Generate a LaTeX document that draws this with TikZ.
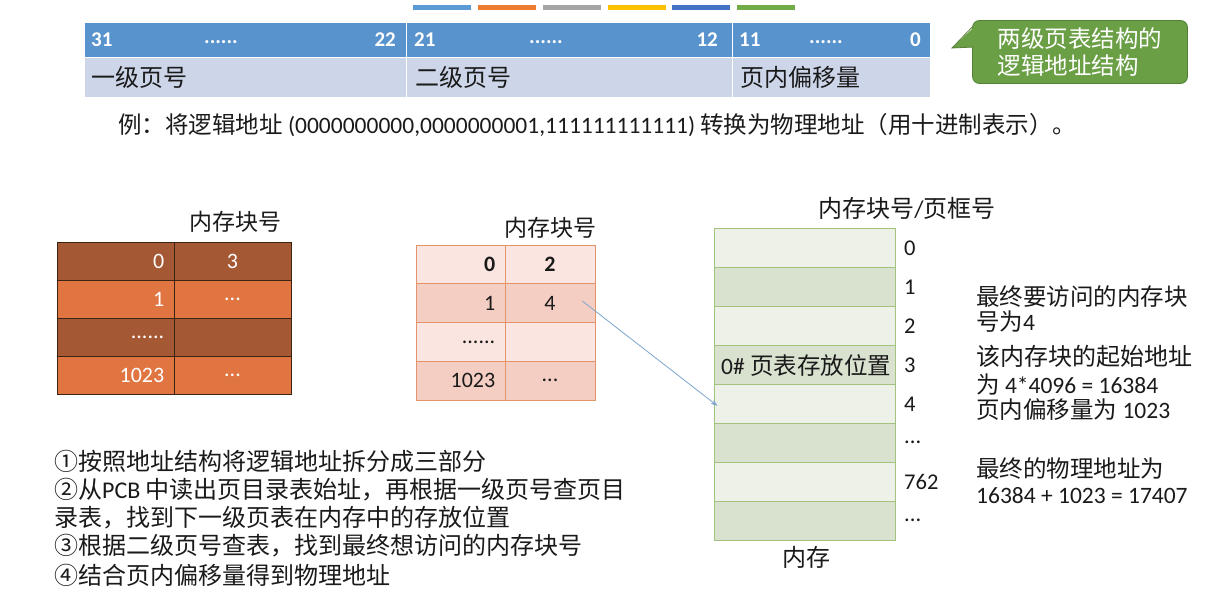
\documentclass[tikz,border=0pt]{standalone}
\usepackage{fontspec}
\setmainfont{Carlito}
\newfontfamily\cjk{Noto Sans CJK SC}
\usetikzlibrary{arrows.meta}
\definecolor{barblue}{HTML}{5B9BD5}
\definecolor{barorange}{HTML}{ED7D31}
\definecolor{bargray}{HTML}{A5A5A5}
\definecolor{baryellow}{HTML}{FFC000}
\definecolor{bardblue}{HTML}{4472C4}
\definecolor{bargreen}{HTML}{70AD47}
\definecolor{hdrblue}{HTML}{5893CD}
\definecolor{rowlight}{HTML}{CDD6E9}
\definecolor{cbfill}{HTML}{6A9F45}
\definecolor{cbdraw}{HTML}{557F37}
\definecolor{tdark}{HTML}{A45834}
\definecolor{torange}{HTML}{E07541}
\definecolor{tborder}{HTML}{3A2414}
\definecolor{pinkA}{HTML}{FBE5E0}
\definecolor{pinkB}{HTML}{F4CEC3}
\definecolor{pinkline}{HTML}{E4946A}
\definecolor{memA}{HTML}{EDF1E8}
\definecolor{memB}{HTML}{D8E2CF}
\definecolor{memline}{HTML}{A3C27E}
\definecolor{arrowblue}{HTML}{7FA6CE}
\definecolor{txtc}{HTML}{1A1A1A}
\newcommand\zh[1]{{\cjk #1}}
\begin{document}
\begin{tikzpicture}[x=1pt,y=-1pt,
  every node/.style={inner sep=0pt, text=txtc},
  bar/.style={minimum width=58pt, minimum height=5pt},
  addrcell/.style={draw=white, line width=1pt},
  hdrtxt/.style={text=white, font=\fontsize{21}{24}\selectfont\bfseries},
  txt/.style={anchor=west, font=\fontsize{24}{28}\selectfont},
  headtxt/.style={font=\fontsize{23}{28}\selectfont},
  smalltxt/.style={anchor=west, font=\fontsize{23.5}{28}\selectfont},
  para/.style={anchor=north west, align=left, font=\fontsize{23.5}{25}\selectfont},
  cellA/.style={draw=tborder, line width=0.8pt, fill=tdark, minimum width=117pt, minimum height=38pt},
  cellB/.style={draw=tborder, line width=0.8pt, fill=torange, minimum width=117pt, minimum height=38pt},
  wtxt/.style={text=white, font=\fontsize{22}{26}\selectfont},
  pcellA/.style={draw=pinkline, line width=0.8pt, fill=pinkA, minimum height=38.75pt},
  pcellB/.style={draw=pinkline, line width=0.8pt, fill=pinkB, minimum height=38.75pt},
  ptxt/.style={font=\fontsize{22}{26}\selectfont},
  memcellA/.style={draw=memline, line width=1pt, fill=memA, minimum width=181pt, minimum height=38.875pt},
  memcellB/.style={draw=memline, line width=1pt, fill=memB, minimum width=181pt, minimum height=38.875pt},
  memlbl/.style={anchor=west, font=\fontsize{22.5}{26}\selectfont},
  conn/.style={draw=arrowblue, line width=0.8pt, -{Stealth[length=7pt,width=5pt]}}
]
\useasboundingbox[fill=white] (0,0) rectangle (1221,589);

% colour bars
\node[bar, fill=barblue]   (cb1) at (442,7.5) {};
\node[bar, fill=barorange] (cb2) at (507,7.5) {};
\node[bar, fill=bargray]   (cb3) at (572,7.5) {};
\node[bar, fill=baryellow] (cb4) at (637,7.5) {};
\node[bar, fill=bardblue]  (cb5) at (701,7.5) {};
\node[bar, fill=bargreen]  (cb6) at (765.5,7.5) {};

% address structure
\node[addrcell, fill=hdrblue, minimum width=322pt, minimum height=35pt] (a1) at (245,39.5) {};
\node[addrcell, fill=hdrblue, minimum width=326pt, minimum height=35pt] (a2) at (569,39.5) {};
\node[addrcell, fill=hdrblue, minimum width=198pt, minimum height=35pt] (a3) at (831,39.5) {};
\node[addrcell, fill=rowlight, minimum width=322pt, minimum height=40pt] (b1) at (245,77) {};
\node[addrcell, fill=rowlight, minimum width=326pt, minimum height=40pt] (b2) at (569,77) {};
\node[addrcell, fill=rowlight, minimum width=198pt, minimum height=40pt] (b3) at (831,77) {};

\node[hdrtxt, anchor=west] (h31) at (91,40) {31};
\node[hdrtxt] (hd1) at (221,42) {......};
\node[hdrtxt, anchor=east] (h22) at (396,40) {22};
\node[hdrtxt, anchor=west] (h21) at (414,40) {21};
\node[hdrtxt] (hd2) at (546,42) {......};
\node[hdrtxt, anchor=east] (h12) at (718,40) {12};
\node[hdrtxt, anchor=west] (h11) at (739,40) {11};
\node[hdrtxt] (hd3) at (826,42) {......};
\node[hdrtxt, anchor=east] (h0) at (921,40) {0};

\node[txt] (l1) at (91,77) {\zh{一级页号}};
\node[txt] (l2) at (415,77) {\zh{二级页号}};
\node[txt] (l3) at (740,77) {\zh{页内偏移量}};

% callout
\node[fill=cbfill, draw=cbdraw, line width=0.8pt, rounded corners=7pt, minimum width=215pt, minimum height=63pt, align=left,
      text=white, font=\fontsize{23.5}{27}\selectfont] (cbox) at (1080,52)
      {\zh{两级页表结构的}\\\zh{逻辑地址结构}};
\coordinate (tip) at (952,48);
\fill[cbfill] ([xshift=2pt,yshift=-7pt]cbox.north west) -- (tip) -- ([xshift=2pt,yshift=-27pt]cbox.north west) -- cycle;
\draw[cbdraw, line width=0.8pt] ([yshift=-7pt]cbox.north west) -- (tip) -- ([yshift=-27pt]cbox.north west);

% example
\node[smalltxt] (ex) at (118,125) {\zh{例：将逻辑地址} (0000000000,0000000001,111111111111) \zh{转换为物理地址（用十进制表示）。}};

% table 1
\node[headtxt] (t1h) at (235,222) {\zh{内存块号}};
\node[cellA] (t1a0) at (115.5,261) {};
\node[cellA] (t1b0) at (232.5,261) {};
\node[cellB] (t1a1) at (115.5,299) {};
\node[cellB] (t1b1) at (232.5,299) {};
\node[cellA] (t1a2) at (115.5,337) {};
\node[cellA] (t1b2) at (232.5,337) {};
\node[cellB] (t1a3) at (115.5,375) {};
\node[cellB] (t1b3) at (232.5,375) {};
\node[wtxt, anchor=east] at ([xshift=-10pt]t1a0.east) {0};
\node[wtxt] at (t1b0) {3};
\node[wtxt, anchor=east] at ([xshift=-10pt]t1a1.east) {1};
\node[wtxt] at (t1b1) {...};
\node[wtxt, anchor=east] at ([xshift=-10pt]t1a2.east) {......};
\node[wtxt, anchor=east] at ([xshift=-10pt]t1a3.east) {1023};
\node[wtxt] at (t1b3) {...};

% table 2
\node[headtxt] (t2h) at (550,228) {\zh{内存块号}};
\node[pcellA, minimum width=89pt] (t2a0) at (460.5,264.4) {};
\node[pcellA, minimum width=90pt] (t2b0) at (550,264.4) {};
\node[pcellB, minimum width=89pt] (t2a1) at (460.5,303.1) {};
\node[pcellB, minimum width=90pt] (t2b1) at (550,303.1) {};
\node[pcellA, minimum width=89pt] (t2a2) at (460.5,341.9) {};
\node[pcellA, minimum width=90pt] (t2b2) at (550,341.9) {};
\node[pcellB, minimum width=89pt] (t2a3) at (460.5,380.6) {};
\node[pcellB, minimum width=90pt] (t2b3) at (550,380.6) {};
\node[ptxt, anchor=east, font=\fontsize{22}{26}\selectfont\bfseries] at ([xshift=-10pt]t2a0.east) {0};
\node[ptxt, font=\fontsize{22}{26}\selectfont\bfseries] at (t2b0) {2};
\node[ptxt, anchor=east] at ([xshift=-10pt]t2a1.east) {1};
\node[ptxt] at (t2b1) {4};
\node[ptxt, anchor=east] at ([xshift=-10pt]t2a2.east) {......};
\node[ptxt, anchor=east] at ([xshift=-10pt]t2a3.east) {1023};
\node[ptxt] at (t2b3) {...};

% memory
\node[txt, anchor=center] (mh) at (907,208) {\zh{内存块号}/\zh{页框号}};
\node[memcellA] (m0) at (804.5,248.4) {};
\node[memcellB] (m1) at (804.5,287.3) {};
\node[memcellA] (m2) at (804.5,326.2) {};
\node[memcellB] (m3) at (804.5,365.1) {};
\node[memcellA] (m4) at (804.5,403.9) {};
\node[memcellB] (m5) at (804.5,442.8) {};
\node[memcellA] (m6) at (804.5,481.7) {};
\node[memcellB] (m7) at (804.5,520.6) {};
\node[memlbl] (ml0) at (904,248.4) {0};
\node[memlbl] (ml1) at (904,287.3) {1};
\node[memlbl] (ml2) at (904,326.2) {2};
\node[memlbl] (ml3) at (904,365.1) {3};
\node[memlbl] (ml4) at (904,403.9) {4};
\node[memlbl] (ml5) at (904,442.8) {...};
\node[memlbl] (ml6) at (904,481.7) {762};
\node[memlbl] (ml7) at (904,520.6) {...};
\node[memlbl, font=\fontsize{23.5}{26}\selectfont] (m3t) at (721,366) {0\# \zh{页表存放位置}};
\node[txt, anchor=center] (mname) at (806,557) {\zh{内存}};

% arrow
\draw[conn] ([xshift=-13pt,yshift=2pt]t2b1.east) -- ([xshift=4pt,yshift=-2pt]m4.west);

% right explanation
\node[para] (r1) at (976,285) {\zh{最终要访问的内存块}\\\zh{号为}4};
\node[txt] (r3) at (976,356) {\zh{该内存块的起始地址}};
\node[para] (r4) at (976,374) {\zh{为} 4*4096 = 16384\\\zh{页内偏移量为} 1023};
\node[para] (r6) at (976,457) {\zh{最终的物理地址为}\\[1pt]16384 + 1023 = 17407};

% steps
\node[txt] (s1) at (54,461) {\zh{①按照地址结构将逻辑地址拆分成三部分}};
\node[txt] (s2) at (54,490) {\zh{②从}PCB \zh{中读出页目录表始址，再根据一级页号查页目}};
\node[txt] (s3) at (54,518) {\zh{录表，找到下一级页表在内存中的存放位置}};
\node[txt] (s4) at (54,546) {\zh{③根据二级页号查表，找到最终想访问的内存块号}};
\node[txt] (s5) at (54,575) {\zh{④结合页内偏移量得到物理地址}};
\end{tikzpicture}
\end{document}
